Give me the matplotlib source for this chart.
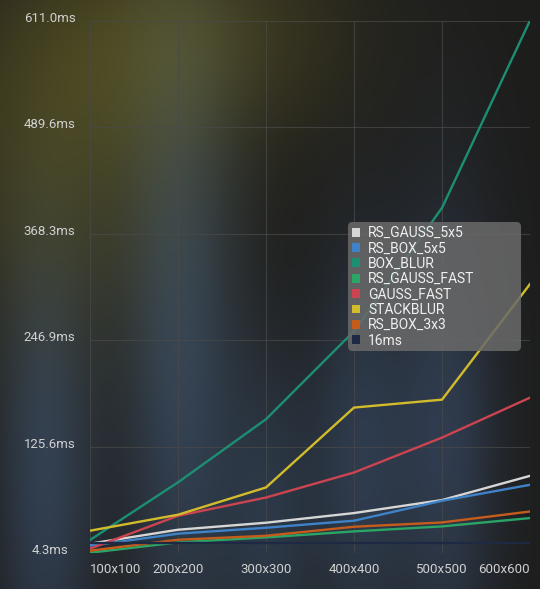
import numpy as np
import matplotlib.pyplot as plt
from matplotlib.patches import Patch, FancyBboxPatch
from matplotlib.transforms import ScaledTranslation

plt.rcParams['font.family'] = ['Roboto', 'DejaVu Sans']

sizes = ['100x100', '200x200', '300x300', '400x400', '500x500', '600x600']
rs_gauss_5x5 = [14.9, 30.8, 38.8, 49.8, 64.6, 92.2]
rs_box_5x5 = [12.6, 26.3, 33.1, 41.1, 63.8, 82.0]
box_blur = [19.1, 84.8, 156.7, 257.0, 397.5, 611.0]
rs_gauss_fast = [4.6, 16.4, 22.1, 28.9, 34.6, 44.1]
gauss_fast = [9.2, 46.7, 67.5, 96.0, 135.8, 181.3]
stackblur = [29.7, 47.9, 79.0, 170.0, 179.0, 310.7]
rs_box_3x3 = [6.9, 19.4, 23.9, 34.2, 39.1, 51.6]
frame_16ms = [16, 16, 16, 16, 16, 16]
yticks = [4.3, 125.6, 246.9, 368.3, 489.6, 611.0]

series = [
    ('RS_GAUSS_5x5', rs_gauss_5x5, '#d6d6d6'),
    ('RS_BOX_5x5', rs_box_5x5, '#3f82c8'),
    ('BOX_BLUR', box_blur, '#1c8f72'),
    ('RS_GAUSS_FAST', rs_gauss_fast, '#2aa566'),
    ('GAUSS_FAST', gauss_fast, '#cc4450'),
    ('STACKBLUR', stackblur, '#d2bc2c'),
    ('RS_BOX_3x3', rs_box_3x3, '#c65c1c'),
    ('16ms', frame_16ms, '#1e2a44'),
]

W, H = 540, 589
fig = plt.figure(figsize=(W / 100, H / 100), dpi=100)

# blurry background glows
yy, xx = np.mgrid[0:H, 0:W]
bg = np.ones((H, W, 3)) * np.array([29, 29, 28]) / 255
glows = [
    (60, 150, 100, 130, (34, 31, 2)),
    (190, 30, 110, 80, (34, 31, 4)),
    (45, 470, 36, 170, (20, 33, 52)),
    (180, 370, 42, 230, (21, 35, 54)),
    (270, 520, 34, 120, (13, 24, 38)),
    (358, 460, 34, 150, (16, 28, 45)),
    (445, 440, 38, 170, (18, 30, 49)),
]
for cx, cy, sx, sy, col in glows:
    g = np.exp(-((xx - cx) ** 2 / (2 * sx ** 2) + (yy - cy) ** 2 / (2 * sy ** 2)))
    bg += g[..., None] * np.array(col) / 255
bg = np.clip(bg, 0, 1)
bgax = fig.add_axes([0, 0, 1, 1])
bgax.imshow(bg, aspect='auto')
bgax.axis('off')

ax = fig.add_axes([90 / W, 1 - 553 / H, 440 / W, 532.5 / H])
ax.patch.set_alpha(0)
x = np.arange(len(sizes))
for name, vals, col in series:
    ax.plot(x, vals, color=col, lw=1.7, solid_joinstyle='round')

ax.set_xlim(0, len(sizes) - 1)
ax.set_ylim(yticks[0], yticks[-1])
ax.set_xticks(x)
ax.set_xticklabels(sizes)
ax.set_yticks(yticks)
ax.set_yticklabels([f'{v:.1f}ms' for v in yticks])
ax.grid(True, color='#4a4a4a', lw=0.8, alpha=0.7)
for s in ax.spines.values():
    s.set_visible(False)
ax.tick_params(length=0, colors='#d0d0d0', labelsize=9.5)
ax.tick_params(axis='y', pad=29)
ax.tick_params(axis='x', pad=7)
for lab in ax.get_yticklabels():
    lab.set_horizontalalignment('center')
    lab.set_transform(lab.get_transform() + ScaledTranslation(0, 4 / 100, fig.dpi_scale_trans))
xl = ax.get_xticklabels()
xl[0].set_horizontalalignment('left')
xl[-1].set_horizontalalignment('right')

# legend box
box = FancyBboxPatch((348 / W, 1 - 351 / H), 173 / W, 129 / H,
                     boxstyle='round,pad=0,rounding_size=0.008',
                     transform=fig.transFigure, facecolor='#6a6a6a', alpha=0.85,
                     edgecolor='none', zorder=5)
fig.patches.append(box)
handles = [Patch(facecolor=c, edgecolor='none', label=n) for n, _, c in series]
leg = fig.legend(handles=handles, loc='upper left', bbox_to_anchor=(352 / W, 1 - 226 / H),
                 fontsize=10, frameon=False, handlelength=0.6, handleheight=0.6,
                 handletextpad=0.55, labelspacing=0.1, borderpad=0, borderaxespad=0)
leg.set_zorder(6)
for t in leg.get_texts():
    t.set_color('#f0f0f0')

fig.savefig('out.png', dpi=100)
